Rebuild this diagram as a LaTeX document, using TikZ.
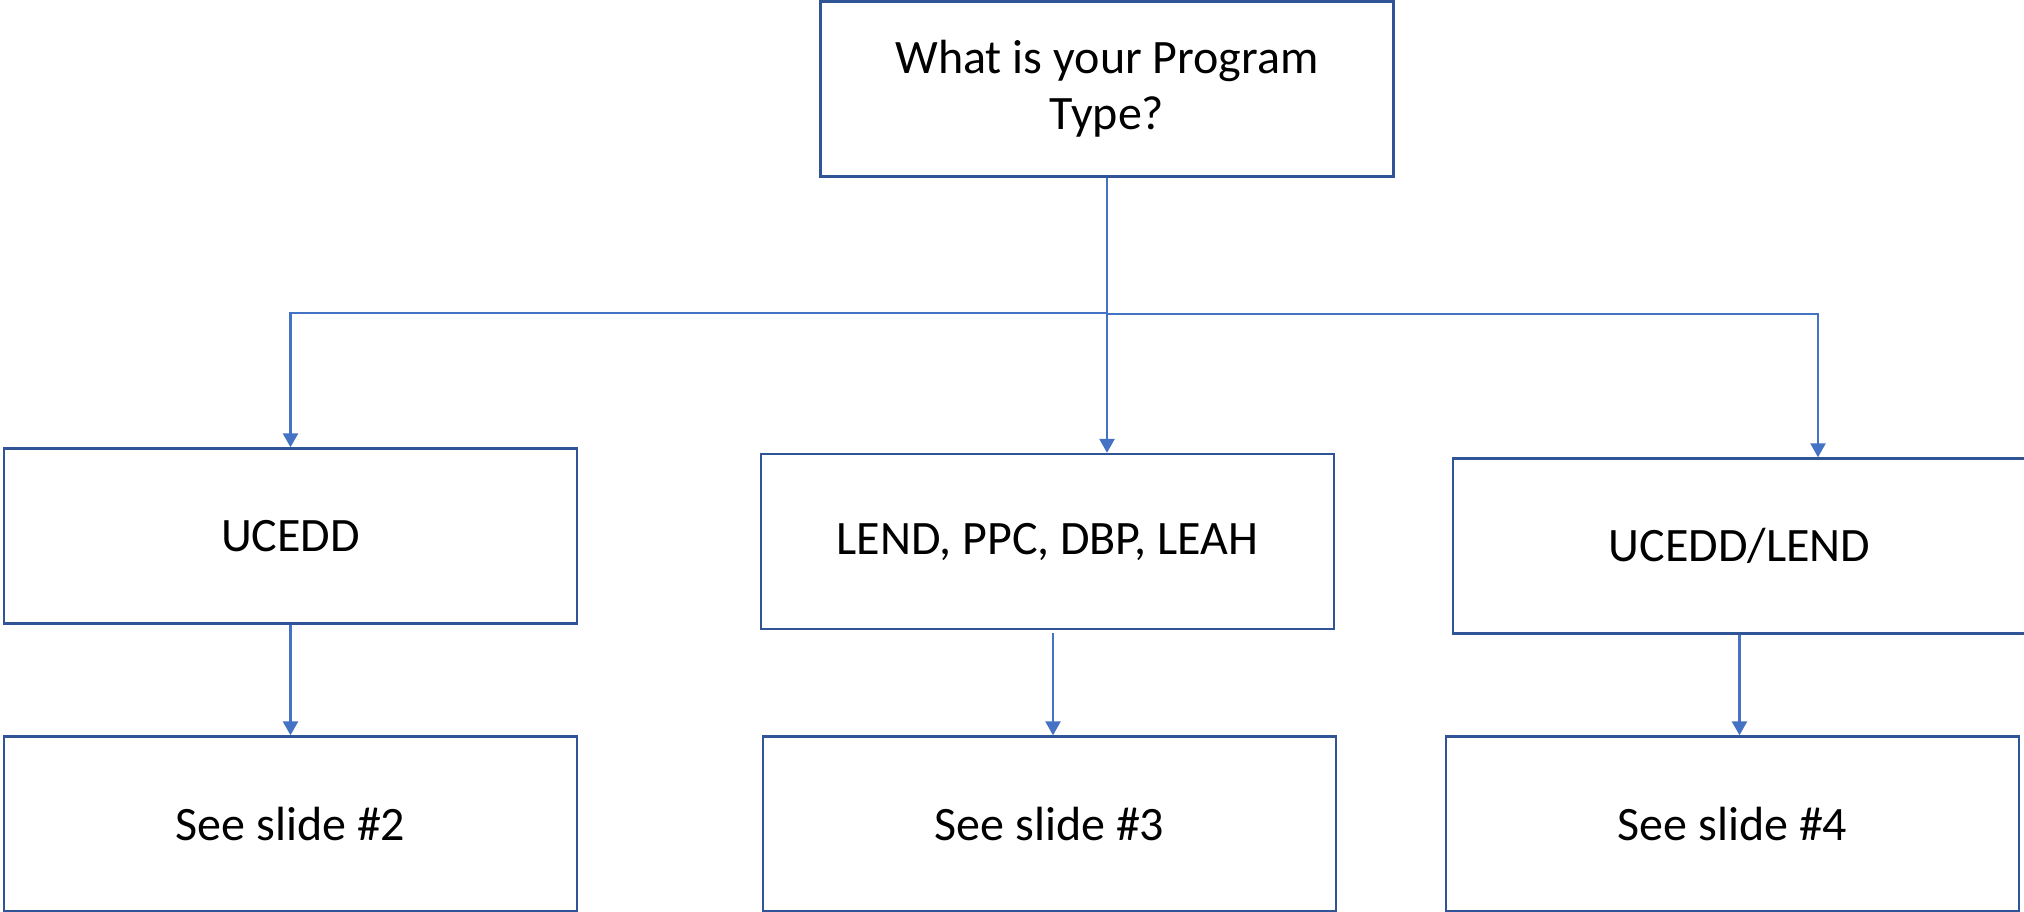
\documentclass[tikz,border=0pt]{standalone}
\usepackage{fontspec}
\setmainfont{Carlito}
\usetikzlibrary{arrows.meta}
\definecolor{boxblue}{RGB}{47,85,151}
\definecolor{linkblue}{RGB}{68,114,196}
\begin{document}
\begin{tikzpicture}[x=0.5pt,y=-0.5pt,
  box/.style={draw=boxblue,line width=1.2pt,rectangle,inner sep=0pt,
    minimum width=286.5pt,minimum height=87.5pt,align=center,
    font=\fontsize{24}{28}\selectfont,text=black},
  conn/.style={draw=linkblue,line width=1.3pt,-{Triangle[length=7pt,width=7.5pt]}}]
\useasboundingbox (0,0) rectangle (2024,911);
\fill[white] (0,0) rectangle (2024,911);
\node[box] (q) at (1107,89) {What is your Program\\Type?};
\node[box] (a) at (290.5,536) {UCEDD};
\node[box] (b) at (1047.5,541.5) {LEND, PPC, DBP, LEAH};
\node[box] (c) at (1739.5,546) {UCEDD/LEND};
\node[box] (s2) at (290.5,824) {See slide \#2};
\node[box] (s3) at (1049.5,824) {See slide \#3};
\node[box] (s4) at (1732.5,824) {See slide \#4};
\coordinate (jl) at (1107,313);
\coordinate (jr) at (1107,314);
\coordinate (rt) at (1818,314);
\coordinate (bs) at (1053,633);
\draw[conn] (q.south) -- (q.south |- b.north);
\draw[conn] (jl) -| (a.north);
\draw[conn] (jr) -- (rt) -- (rt |- c.north);
\draw[conn] (a.south) -- (s2.north);
\draw[conn] (bs) -- (bs |- s3.north);
\draw[conn] (c.south) -- (c.south |- s4.north);
\end{tikzpicture}
\end{document}
